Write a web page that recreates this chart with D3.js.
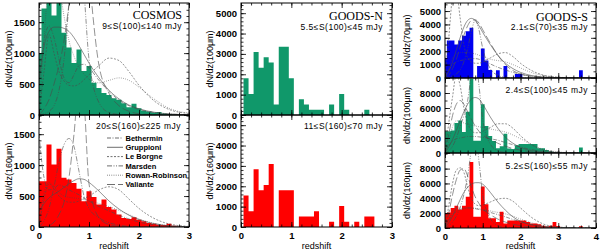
<!DOCTYPE html>
<html>
<head>
<meta charset="utf-8">
<script src="https://cdn.jsdelivr.net/npm/d3@7"></script>
<style>
  body { margin: 0; background: #fff; }
  svg { display: block; }
</style>
</head>
<body>
<div id="chart"></div>
<script>
const width = 600;
const height = 251;

// bin centres (bin width 0.1 in z)
const binCenters = [0.0, 0.1, 0.2, 0.3, 0.4, 0.5, 0.6, 0.7, 0.8, 0.9,
  1.0, 1.1, 1.2, 1.3, 1.4, 1.5, 1.6, 1.7, 1.8, 1.9,
  2.0, 2.1, 2.2, 2.3, 2.4, 2.5, 2.6, 2.7, 2.8, 2.9,
  3.0, 3.1, 3.2, 3.3, 3.4, 3.5, 3.6, 3.7, 3.8, 3.9];

// observed histograms
const cosmos100 = [1000, 1720, 1900, 1610, 1900, 1330, 1090, 840, 1060, 710,
  790, 520, 435, 355, 325, 270, 245, 190, 125, 180,
  110, 70, 55, 40, 50, 25, 15, 8, 5, 0];
const cosmos160 = [740, 740, 1334, 1010, 1264, 794, 767, 713, 620, 416,
  578, 486, 362, 443, 324, 281, 200, 146, 130, 157,
  119, 92, 65, 54, 38, 32, 54, 22, 10, 0];
const goodsN100 = [0, 1806, 1032, 3096, 2322, 2838, 2580, 516, 3354, 3354,
  1806, 0, 774, 516, 258, 258, 258, 0, 516, 0,
  1032, 258, 0, 0, 0, 258, 0, 0, 0, 0];
const goodsN160 = [0, 1548, 774, 2838, 1806, 2064, 3096, 0, 1806, 1806,
  1806, 0, 516, 516, 516, 774, 0, 0, 258, 0,
  1032, 258, 0, 258, 0, 516, 516, 0, 0, 0];
const goodsS70 = [1500, 2800, 2800, 2500, 2800, 3150, 3500, 3750, 0, 900,
  2200, 1300, 600, 0, 580, 0, 890, 0, 0, 290,
  290, 0, 0, 0, 0, 0, 0, 0, 0, 0,
  0, 0, 0, 0, 0, 0, 580, 0, 0, 0];
const goodsS100 = [2900, 2900, 3000, 4000, 4350, 2800, 5500, 9900, 1650, 1650,
  6500, 3600, 2260, 1600, 650, 900, 2570, 600, 520, 1040,
  1200, 1200, 1200, 1200, 1200, 650, 650, 400, 200, 100,
  0, 0, 0, 0, 0, 0, 740, 0, 0, 0];
const goodsS160 = [2000, 2100, 2700, 3000, 2500, 3000, 4200, 8900, 1500, 1500,
  5600, 3200, 1300, 1300, 800, 2200, 600, 1000, 1000, 1000,
  1000, 1000, 800, 600, 600, 500, 300, 200, 300, 800,
  270, 0, 0, 0, 0, 0, 230, 0, 0, 0];

// model predictions, sampled on these redshifts
const zLeft = [0, 0.1, 0.2, 0.3, 0.4, 0.5, 0.6, 0.7, 0.8, 0.9, 1.0, 1.2, 1.4, 1.6, 1.8, 2.0, 2.3, 2.6, 3.0];
const zRight = [0, 0.1, 0.2, 0.3, 0.4, 0.5, 0.6, 0.7, 0.8, 0.9, 1.0, 1.2, 1.4, 1.6, 1.8, 2.0, 2.3, 2.6, 3.0, 3.5, 4.0];

const modelNames = ['Bethermin', 'Gruppioni', 'Le Borgne', 'Marsden', 'Rowan-Robinson', 'Valiante'];
const modelDash = ['4,1.5,1,1.5', null, '2,1.5', '5,1.5,1,1.5,1,1.5', '0.8,1.4', '8,3'];

// order: Bethermin, Gruppioni, Le Borgne, Marsden, Rowan-Robinson, Valiante
const cosmos100Models = [
  [600, 1200, 1440, 1250, 900, 600, 520, 650, 800, 820, 760, 560, 380, 240, 150, 90, 40, 15, 5],
  [500, 1100, 1350, 1420, 1420, 1400, 1350, 1250, 1120, 980, 840, 600, 400, 260, 160, 100, 45, 18, 5],
  [0, 700, 1300, 1000, 700, 550, 480, 470, 500, 570, 650, 800, 920, 880, 700, 480, 230, 90, 25],
  [0, 20, 60, 150, 400, 900, 1800, 2800, 3000, 2000, 900, 200, 40, 10, 0, 0, 0, 0, 0],
  [0, 1200, 2200, 2400, 2100, 1600, 1200, 950, 780, 660, 580, 520, 560, 600, 560, 450, 260, 110, 30],
  [0, 100, 250, 500, 800, 1200, 1800, 2600, 3200, 3300, 2300, 800, 350, 150, 60, 20, 5, 0, 0]
];
const cosmos160Models = [
  [1500, 800, 600, 620, 680, 650, 600, 560, 520, 470, 420, 330, 260, 190, 130, 80, 35, 12, 3],
  [250, 380, 470, 530, 580, 640, 700, 750, 780, 770, 720, 580, 420, 290, 190, 120, 55, 20, 5],
  [0, 450, 700, 620, 500, 430, 400, 400, 420, 460, 500, 600, 650, 600, 450, 300, 140, 50, 10],
  [0, 100, 300, 650, 1050, 1330, 1430, 1300, 900, 500, 300, 150, 70, 30, 10, 5, 0, 0, 0],
  [0, 550, 720, 650, 560, 500, 480, 470, 460, 440, 420, 380, 330, 270, 200, 130, 60, 20, 5],
  [0, 0, 20, 80, 200, 400, 800, 1500, 2300, 2000, 700, 150, 40, 10, 0, 0, 0, 0, 0]
];
const goodsS70Models = [
  [0, 600, 1000, 1200, 1300, 1350, 1400, 1450, 1450, 1400, 1300, 1050, 800, 600, 420, 280, 130, 60, 20, 5, 0],
  [0, 500, 1200, 2100, 3000, 3800, 4300, 4450, 4300, 3900, 3400, 2500, 1700, 1100, 700, 420, 180, 80, 25, 5, 0],
  [0, 3000, 6000, 6500, 4500, 2500, 1500, 1200, 1100, 1100, 1200, 1500, 1800, 1900, 1600, 1100, 550, 220, 60, 10, 0],
  [0, 50, 150, 300, 600, 1200, 2200, 3500, 4300, 3600, 2200, 700, 200, 50, 10, 0, 0, 0, 0, 0, 0],
  [0, 800, 1500, 1800, 1900, 1900, 1900, 1850, 1800, 1700, 1600, 1400, 1300, 1200, 1000, 750, 400, 180, 50, 10, 0],
  [0, 200, 700, 1400, 2300, 3200, 3900, 4300, 4350, 4100, 3600, 2600, 1700, 1000, 550, 300, 120, 40, 10, 0, 0]
];
const goodsS100Models = [
  [0, 1000, 1600, 1900, 2000, 2100, 2200, 2200, 2200, 2150, 2100, 1900, 1700, 1400, 1100, 800, 450, 200, 60, 10, 0],
  [0, 800, 1800, 3000, 4300, 5500, 6500, 7200, 7400, 7200, 6500, 4800, 3300, 2100, 1300, 750, 300, 110, 30, 5, 0],
  [0, 4000, 7500, 10500, 9000, 6000, 4000, 3000, 2700, 2700, 2900, 3400, 3900, 3900, 3300, 2300, 1100, 400, 100, 15, 0],
  [0, 300, 900, 2000, 3500, 5000, 7000, 10500, 13000, 9000, 4500, 1200, 300, 80, 20, 0, 0, 0, 0, 0, 0],
  [0, 1500, 3500, 4300, 4200, 4000, 3800, 3700, 3600, 3500, 3400, 3200, 3000, 2800, 2400, 1900, 1100, 500, 150, 20, 0],
  [0, 2500, 5000, 6500, 7000, 6500, 5500, 4500, 3600, 2900, 2400, 1800, 1300, 900, 600, 380, 160, 60, 15, 0, 0]
];
const goodsS160Models = [
  [0, 1000, 1800, 2200, 2500, 2600, 2700, 2700, 2600, 2500, 2400, 2100, 1800, 1500, 1150, 850, 470, 220, 70, 10, 0],
  [0, 700, 1600, 2700, 3800, 4800, 5500, 5900, 6100, 6100, 5900, 4800, 3500, 2400, 1500, 900, 400, 160, 45, 8, 0],
  [0, 3000, 6000, 7800, 8100, 7500, 5500, 4000, 3200, 3000, 3100, 3500, 3900, 4000, 3600, 2700, 1400, 550, 140, 20, 0],
  [0, 300, 800, 1600, 2800, 4500, 7000, 10500, 12500, 9000, 4500, 1300, 300, 80, 20, 0, 0, 0, 0, 0, 0],
  [0, 1200, 2200, 2600, 2700, 2700, 2700, 2700, 2650, 2600, 2500, 2300, 2100, 1900, 1600, 1200, 700, 300, 90, 10, 0],
  [0, 2000, 4500, 6500, 7800, 8000, 7000, 5500, 4200, 3300, 2600, 1800, 1200, 800, 500, 300, 120, 40, 10, 0, 0]
];

// tick labels
const yTicksCosmos = [0, 500, 1000, 1500];
const yTicksGoodsN = [0, 1000, 2000, 3000, 4000, 5000];
const yTicksS70 = [0, 1000, 2000, 3000, 4000, 5000];
const yTicksS = [0, 2000, 4000, 6000, 8000];
const xTicks3 = [0, 1, 2, 3];
const xTicks4 = [0, 1, 2, 3, 4];

const green = '#10986a';
const red = '#ff0000';
const blue = '#0000f0';
const curveColor = '#4a4a4a';

const panels = [
  { id: 'c100', left: 39, right: 189, top: 3, bottom: 115, xMax: 3, yMax: 1810,
    yTicks: yTicksCosmos, yMinor: 100, xTicks: xTicks3, hist: cosmos100, color: green,
    models: cosmos100Models, grid: zLeft, title: 'COSMOS', flux: '9≤S(100)≤140 mJy',
    titleY: 19, fluxY: 29, textRight: 182, ylabel: 'dN/dz(100μm)', ylabelX: 12, xLabels: false },
  { id: 'c160', left: 39, right: 189, top: 115, bottom: 227, xMax: 3, yMax: 1810,
    yTicks: yTicksCosmos, yMinor: 100, xTicks: xTicks3, hist: cosmos160, color: red,
    models: cosmos160Models, grid: zLeft, flux: '20≤S(160)≤225 mJy',
    fluxY: 128.5, textRight: 181, ylabel: 'dN/dz(160μm)', ylabelX: 12, xLabels: true, legend: true },
  { id: 'n100', left: 241, right: 392, top: 3, bottom: 115, xMax: 3, yMax: 5500,
    yTicks: yTicksGoodsN, yMinor: 200, xTicks: xTicks3, hist: goodsN100, color: green,
    title: 'GOODS-N', flux: '5.5≤S(100)≤45 mJy',
    titleY: 20, fluxY: 29.5, textRight: 383, ylabel: 'dN/dz(100μm)', ylabelX: 213, xLabels: false },
  { id: 'n160', left: 241, right: 392, top: 115, bottom: 227, xMax: 3, yMax: 5500,
    yTicks: yTicksGoodsN, yMinor: 200, xTicks: xTicks3, hist: goodsN160, color: red,
    flux: '11≤S(160)≤70 mJy',
    fluxY: 128.5, textRight: 383, ylabel: 'dN/dz(160μm)', ylabelX: 213, xLabels: true },
  { id: 's70', left: 445, right: 596, top: 3, bottom: 78, xMax: 4, yMax: 5600,
    yTicks: yTicksS70, yMinor: 500, xTicks: xTicks4, hist: goodsS70, color: blue,
    models: goodsS70Models, grid: zRight, title: 'GOODS-S', flux: '2.1≤S(70)≤35 mJy',
    titleY: 20.5, fluxY: 30, textRight: 588, ylabel: 'dN/dz(70μm)', ylabelX: 410, xLabels: false },
  { id: 's100', left: 445, right: 596, top: 78, bottom: 153, xMax: 4, yMax: 10000,
    yTicks: yTicksS, yMinor: 1000, xTicks: xTicks4, hist: goodsS100, color: green,
    models: goodsS100Models, grid: zRight, flux: '2.4≤S(100)≤45 mJy',
    fluxY: 92.5, textRight: 588, ylabel: 'dN/dz(100μm)', ylabelX: 410, xLabels: false },
  { id: 's160', left: 445, right: 596, top: 153, bottom: 228, xMax: 4, yMax: 10100,
    yTicks: yTicksS, yMinor: 1000, xTicks: xTicks4, hist: goodsS160, color: red,
    models: goodsS160Models, grid: zRight, flux: '5.2≤S(160)≤55 mJy',
    fluxY: 168.5, textRight: 588, ylabel: 'dN/dz(160μm)', ylabelX: 410, xLabels: true }
];

const svg = d3.select('#chart')
  .append('svg')
  .attr('width', width)
  .attr('height', height)
  .attr('viewBox', `0 0 ${width} ${height}`);

const sans = '"Liberation Sans", Arial, Helvetica, sans-serif';
const serif = '"Liberation Serif", "Times New Roman", serif';

function styleAxis(g, labelled) {
  g.select('.domain').remove();
  g.selectAll('line').attr('stroke', '#000').attr('stroke-width', 0.8);
  g.attr('font-family', null).attr('font-size', null);
  g.selectAll('text')
    .attr('fill', '#000')
    .style('font-family', sans)
    .style('font-size', '9.5px')
    .style('font-weight', 'bold');
  if (!labelled) g.selectAll('text').remove();
}

function drawPanel(p) {
  const x = d3.scaleLinear().domain([0, p.xMax]).range([p.left, p.right]);
  const y = d3.scaleLinear().domain([0, p.yMax]).range([p.bottom, p.top]);

  const clipId = 'clip-' + p.id;
  svg.append('clipPath').attr('id', clipId)
    .append('rect')
    .attr('x', p.left).attr('y', p.top)
    .attr('width', p.right - p.left).attr('height', p.bottom - p.top);

  const g = svg.append('g').attr('clip-path', `url(#${clipId})`);

  // histogram as a stepped area
  const steps = p.hist.map((v, i) => ({ e: Math.max(0, binCenters[i] - 0.05), v }));
  steps.push({ e: binCenters[p.hist.length - 1] + 0.05, v: 0 });
  const area = d3.area()
    .x(d => x(d.e))
    .y0(y(0))
    .y1(d => y(d.v))
    .curve(d3.curveStepAfter);
  g.append('path')
    .datum(steps)
    .attr('d', area)
    .attr('fill', p.color);

  // model curves
  if (p.models) {
    const line = d3.line()
      .x(d => x(d[0]))
      .y(d => y(d[1]))
      .curve(d3.curveMonotoneX);
    p.models.forEach((vals, k) => {
      g.append('path')
        .datum(vals.map((v, i) => [p.grid[i], v]))
        .attr('d', line)
        .attr('fill', 'none')
        .attr('stroke', curveColor)
        .attr('stroke-width', 0.6)
        .attr('stroke-dasharray', modelDash[k]);
    });
  }

  // frame
  svg.append('rect')
    .attr('x', p.left).attr('y', p.top)
    .attr('width', p.right - p.left).attr('height', p.bottom - p.top)
    .attr('fill', 'none').attr('stroke', '#000').attr('stroke-width', 1);

  const yMinorVals = d3.range(0, p.yMax, p.yMinor);
  const xMinorVals = d3.range(0, p.xMax + 0.001, 0.2);

  // left
  svg.append('g').attr('transform', `translate(${p.left},0)`)
    .call(d3.axisLeft(y).tickValues(p.yTicks).tickSize(-5).tickPadding(4).tickFormat(d3.format('d')))
    .call(g => styleAxis(g, true));
  svg.append('g').attr('transform', `translate(${p.left},0)`)
    .call(d3.axisLeft(y).tickValues(yMinorVals).tickSize(-2.5).tickFormat(''))
    .call(g => styleAxis(g, false));
  // right
  svg.append('g').attr('transform', `translate(${p.right},0)`)
    .call(d3.axisRight(y).tickValues(p.yTicks).tickSize(-5).tickFormat(''))
    .call(g => styleAxis(g, false));
  svg.append('g').attr('transform', `translate(${p.right},0)`)
    .call(d3.axisRight(y).tickValues(yMinorVals).tickSize(-2.5).tickFormat(''))
    .call(g => styleAxis(g, false));
  // top
  svg.append('g').attr('transform', `translate(0,${p.top})`)
    .call(d3.axisTop(x).tickValues(p.xTicks).tickSize(-5).tickFormat(''))
    .call(g => styleAxis(g, false));
  svg.append('g').attr('transform', `translate(0,${p.top})`)
    .call(d3.axisTop(x).tickValues(xMinorVals).tickSize(-2.5).tickFormat(''))
    .call(g => styleAxis(g, false));
  // bottom
  svg.append('g').attr('transform', `translate(0,${p.bottom})`)
    .call(d3.axisBottom(x).tickValues(p.xTicks).tickSize(-5).tickPadding(5.5).tickFormat(d3.format('d')))
    .call(g => styleAxis(g, p.xLabels));
  svg.append('g').attr('transform', `translate(0,${p.bottom})`)
    .call(d3.axisBottom(x).tickValues(xMinorVals).tickSize(-2.5).tickFormat(''))
    .call(g => styleAxis(g, false));

  if (p.xLabels) {
    svg.append('text')
      .attr('x', (p.left + p.right) / 2)
      .attr('y', 249)
      .attr('text-anchor', 'middle')
      .style('font-family', sans)
      .style('font-size', '9px')
      .text('redshift');
  }

  svg.append('text')
    .attr('transform', `translate(${p.ylabelX},${(p.top + p.bottom) / 2}) rotate(-90)`)
    .attr('text-anchor', 'middle')
    .style('font-family', sans)
    .style('font-size', '9px')
    .text(p.ylabel);

  if (p.title) {
    svg.append('text')
      .attr('x', p.textRight).attr('y', p.titleY)
      .attr('text-anchor', 'end')
      .style('font-family', serif)
      .style('font-size', '12px')
      .text(p.title);
  }
  svg.append('text')
    .attr('x', p.textRight).attr('y', p.fluxY)
    .attr('text-anchor', 'end')
    .style('font-family', sans)
    .style('font-size', '8.5px')
    .style('letter-spacing', '0.5px')
    .text(p.flux);

  if (p.legend) {
    const rowY = d3.scaleLinear().domain([0, 5]).range([138, 184.5]);
    const lg = svg.append('g');
    modelNames.forEach((name, k) => {
      lg.append('line')
        .attr('x1', 107).attr('x2', 123)
        .attr('y1', rowY(k)).attr('y2', rowY(k))
        .attr('stroke', curveColor)
        .attr('stroke-width', 0.8)
        .attr('stroke-dasharray', modelDash[k]);
      lg.append('text')
        .attr('x', 125.5).attr('y', rowY(k) + 2.7)
        .style('font-family', sans)
        .style('font-size', '7.5px')
        .style('font-weight', 'bold')
        .text(name);
    });
  }
}

panels.forEach(drawPanel);
</script>
</body>
</html>
